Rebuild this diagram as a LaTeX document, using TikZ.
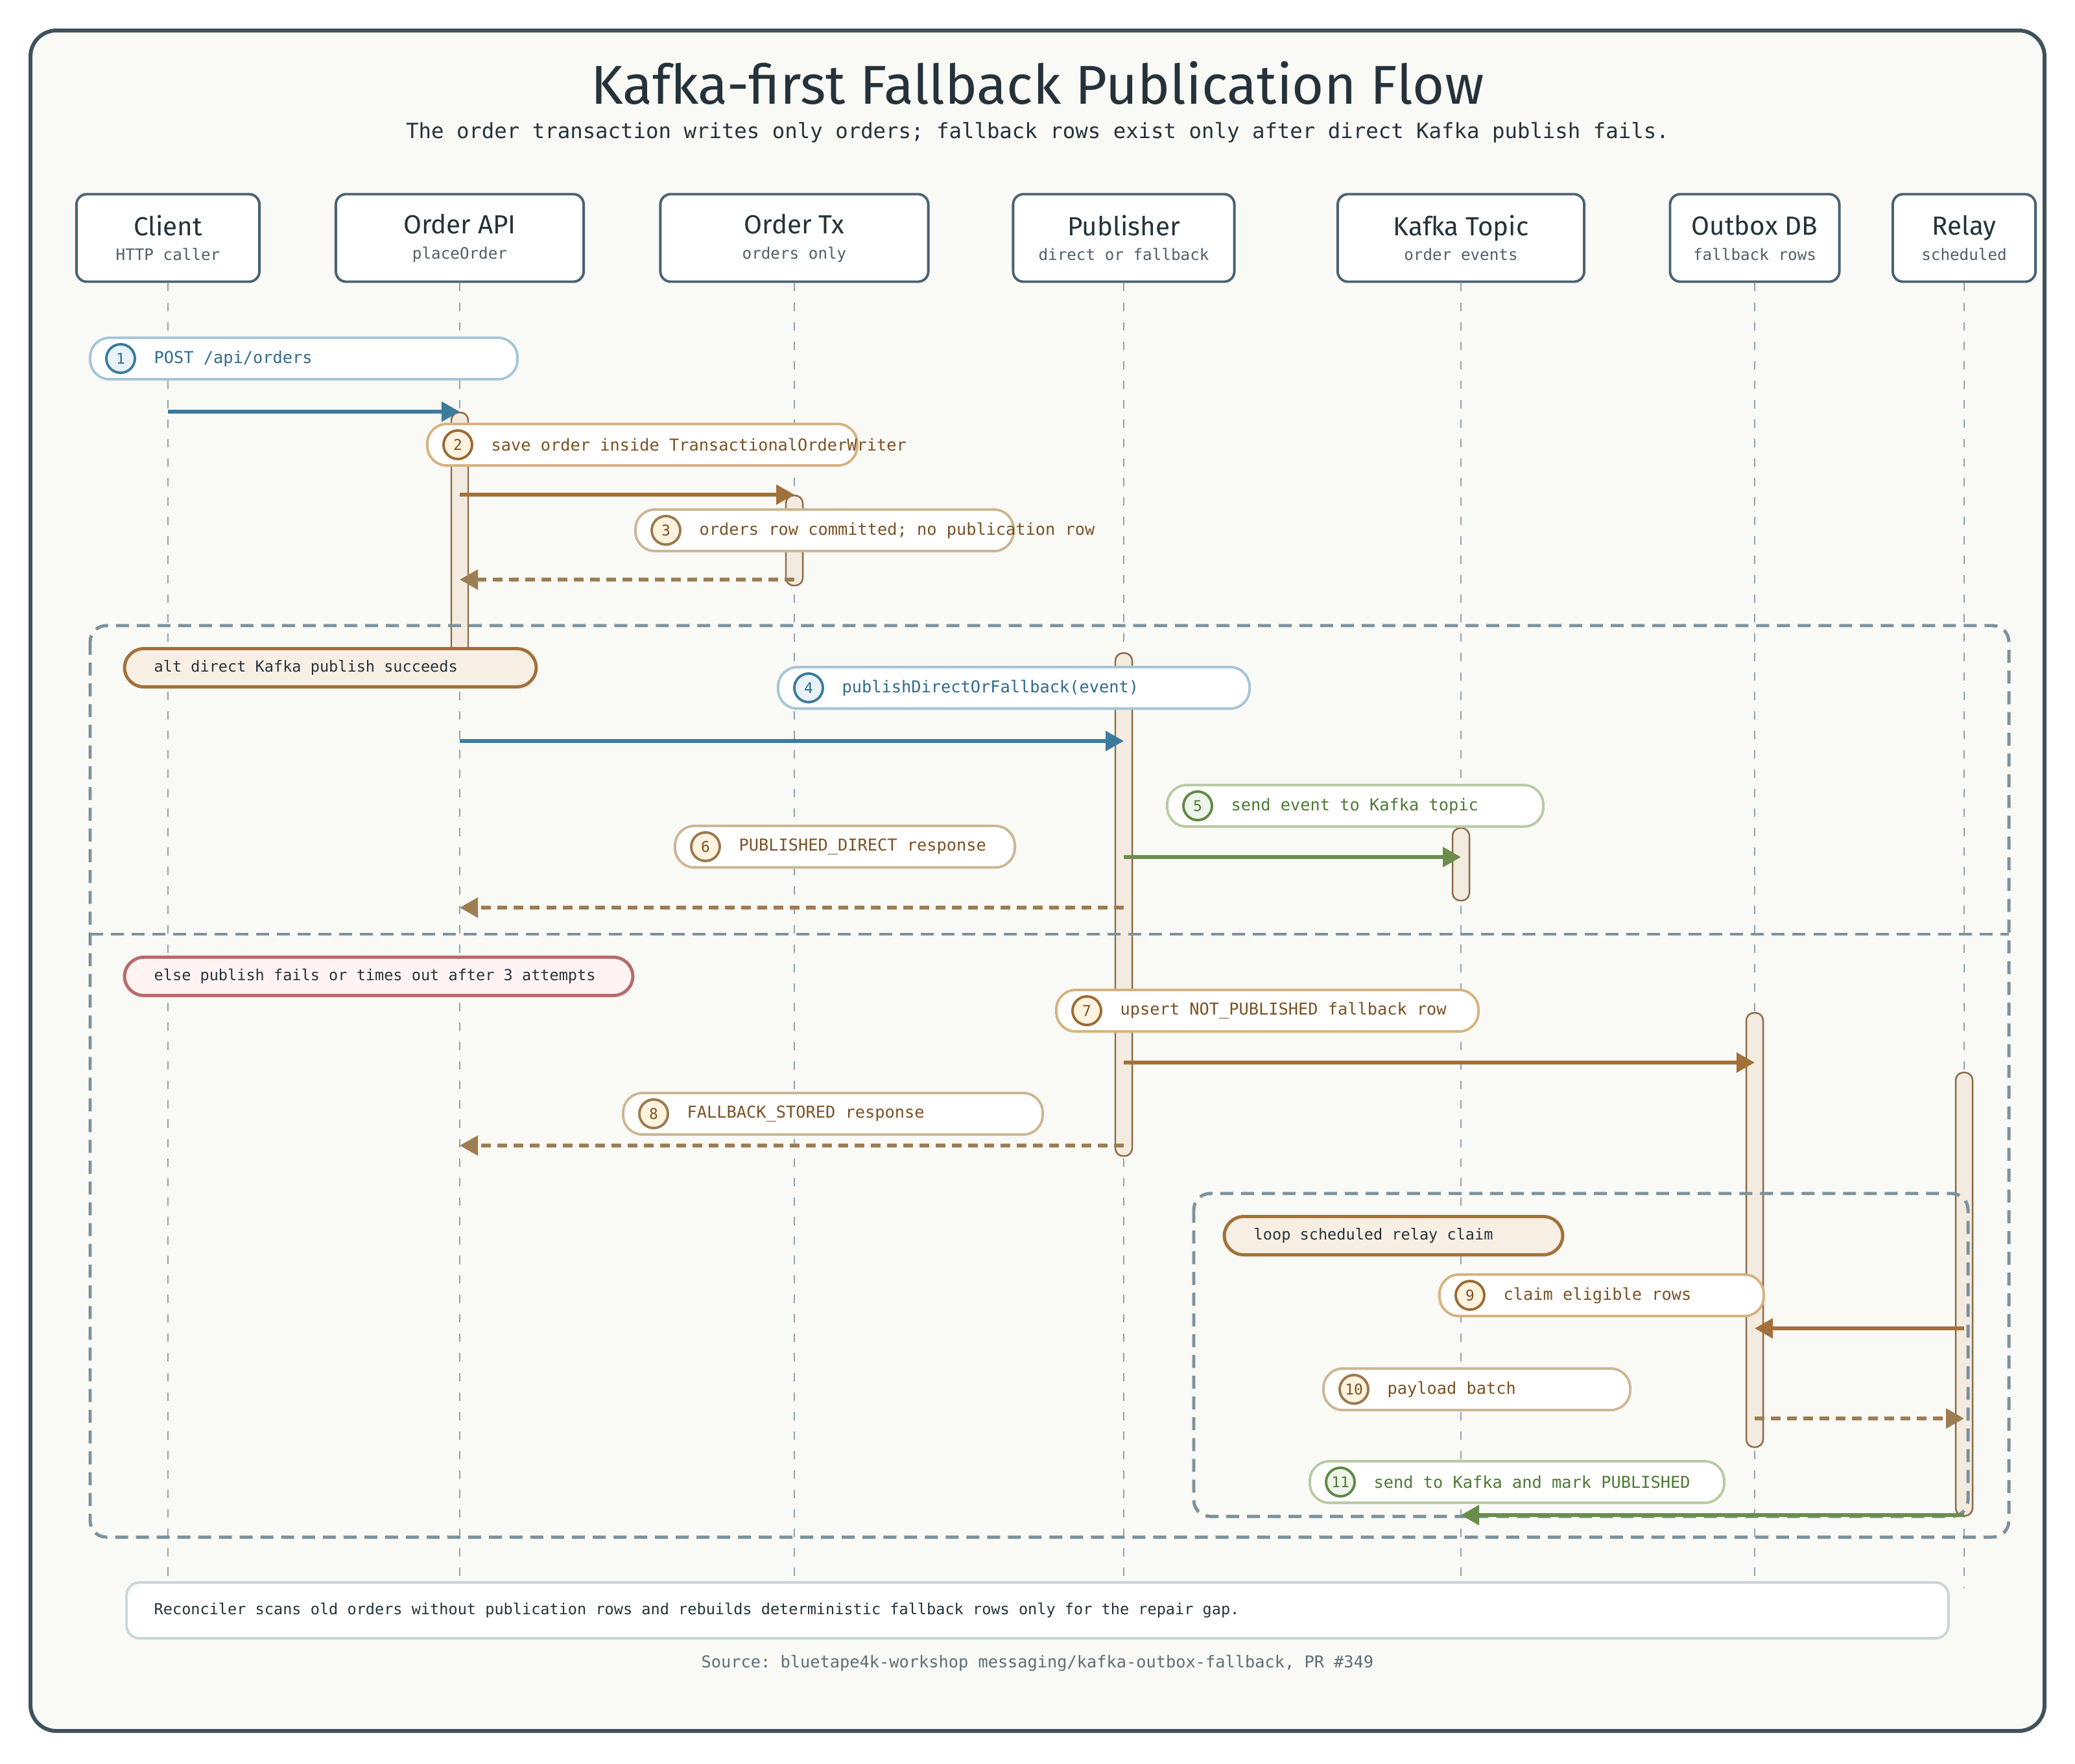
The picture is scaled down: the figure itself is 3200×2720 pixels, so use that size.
\documentclass[tikz,border=0pt]{standalone}
\usepackage{fontspec}
\setmainfont{Fira Sans}
\setmonofont{DejaVu Sans Mono}
\usetikzlibrary{calc,arrows.meta}

\definecolor{paper}{HTML}{F9F9F5}
\definecolor{framedark}{HTML}{3F525C}
\definecolor{boxline}{HTML}{4A6270}
\definecolor{ink}{HTML}{25323A}
\definecolor{subink}{HTML}{4E5F69}
\definecolor{lifecol}{HTML}{8FA3AD}
\definecolor{altline}{HTML}{7B919C}
\definecolor{barfill}{HTML}{F3EBE0}
\definecolor{barline}{HTML}{8A6A45}
\definecolor{tagfill}{HTML}{F7EFE3}
\definecolor{elsefill}{HTML}{FFF4F3}
\definecolor{elseline}{HTML}{B86A6A}
\definecolor{notecol}{HTML}{C9D5D9}
\definecolor{srccol}{HTML}{5C6E78}
\definecolor{bluearrow}{HTML}{3B7B9C}
\definecolor{bluepill}{HTML}{A4C6D8}
\definecolor{bluedot}{HTML}{3B7B9C}
\definecolor{bluedotfill}{HTML}{E9F2F8}
\definecolor{bluetext}{HTML}{2F6B8C}
\definecolor{brownarrow}{HTML}{A2713A}
\definecolor{brownpill}{HTML}{D6B37E}
\definecolor{browndot}{HTML}{9B6A33}
\definecolor{browndotfill}{HTML}{FFF3DF}
\definecolor{browntext}{HTML}{7B5123}
\definecolor{tanarrow}{HTML}{9D7D52}
\definecolor{tanpill}{HTML}{CCB794}
\definecolor{tandot}{HTML}{9B7A4E}
\definecolor{tandotfill}{HTML}{FFF3DF}
\definecolor{tantext}{HTML}{7B5123}
\definecolor{greenarrow}{HTML}{6A8E4A}
\definecolor{greenpill}{HTML}{B8CBA3}
\definecolor{greendot}{HTML}{5E8944}
\definecolor{greendotfill}{HTML}{EDF5EA}
\definecolor{greentext}{HTML}{4D7934}

\tikzset{
  actor/.style={draw=boxline, line width=1.1pt, fill=white, rounded corners=0.16cm,
    minimum height=1.35cm, align=center, inner sep=0pt, text=ink},
  lifeline/.style={draw=lifecol, line width=0.75pt, dash pattern=on 0.13cm off 0.17cm},
  actbar/.style={draw=barline, fill=barfill, line width=0.7pt, rounded corners=0.12cm,
    minimum width=0.26cm, inner sep=0pt},
  frame/.style={draw=altline, line width=1.4pt, dash pattern=on 0.2cm off 0.12cm, rounded corners=0.25cm},
  msgarrow/.style={line width=1.7pt, -{Triangle[length=0.28cm, width=0.3cm]}},
  reply/.style={msgarrow, dash pattern=on 0.15cm off 0.1cm},
  pill/.style={rounded corners=0.3cm, line width=1.1pt, fill=white, minimum height=0.64cm, inner sep=0pt},
  tag/.style={pill, line width=1.4pt, minimum height=0.59cm},
  numdot/.style={circle, line width=1.1pt, minimum size=0.44cm, inner sep=0pt,
    font=\ttfamily\fontsize{6.5}{7}\selectfont},
  msgtext/.style={anchor=west, inner sep=0pt, font=\ttfamily\fontsize{7.2}{8}\selectfont},
}

\newcommand\actname[2]{{\fontsize{11.5}{13}\selectfont #1}\\[-1pt]{\ttfamily\fontsize{6.9}{8}\selectfont\color{subink}#2}}

\newcommand\msglabel[7]{%
  \node[pill, draw=#2pill, minimum width={(#5-#4)*0.01cm}] (#1) at ({(#4+#5)/2},#6) {};
  \node[numdot, draw=#2dot, fill=#2dotfill, text=#2text] (#1n) at (#4+47,#6) {#3};
  \node[msgtext, text=#2text] (#1t) at (#4+98,#6) {#7};
}

\newcommand\frametag[7]{%
  \node[tag, fill=#2, draw=#3, minimum width={(#5-#4)*0.01cm}] (#1) at ({(#4+#5)/2},#6) {};
  \node[msgtext, text=ink, font=\ttfamily\fontsize{6.7}{8}\selectfont] (#1t) at (#4+45,#6) {#7};
}

\newcommand\actbox[4]{%
  \node[actbar, anchor=north, minimum height={(#4-#3)*0.01cm}] (#1) at (#2 |- 0,#3) {};
}

\begin{document}
\begin{tikzpicture}[x=0.01cm, y=-0.01cm]
  \useasboundingbox (0,0) rectangle (3200,2720);
  \fill[white] (0,0) rectangle (3200,2720);
  \draw[line width=1.7pt, draw=framedark, fill=paper, rounded corners=0.4cm] (47,47) rectangle (3153,2670);

  \node[font=\fontsize{24}{28}\selectfont, text=ink] (title) at (1600,128) {Kafka-first Fallback Publication Flow};
  \node[font=\ttfamily\fontsize{9.2}{11}\selectfont, text=ink] (subtitle) at (1600,204)
    {The order transaction writes only orders; fallback rows exist only after direct Kafka publish fails.};

  \node[actor, minimum width=2.82cm] (client) at (259,367) {\actname{Client}{HTTP caller}};
  \node[actor, minimum width=3.82cm] (api) at (709,367) {\actname{Order API}{placeOrder}};
  \node[actor, minimum width=4.13cm] (tx) at (1225,367) {\actname{Order Tx}{orders only}};
  \node[actor, minimum width=3.41cm] (pub) at (1733,367) {\actname{Publisher}{direct or fallback}};
  \node[actor, minimum width=3.80cm] (topic) at (2253,367) {\actname{Kafka Topic}{order events}};
  \node[actor, minimum width=2.61cm] (outbox) at (2706,367) {\actname{Outbox DB}{fallback rows}};
  \node[actor, minimum width=2.20cm] (relay) at (3029,367) {\actname{Relay}{scheduled}};

  \coordinate (lifeEnd) at (0,2450);
  \foreach \p in {client,api,tx,pub,topic,outbox,relay}
    \draw[lifeline] (\p.south) -- (\p |- lifeEnd);

  \actbox{apiBar}{api}{635}{1010}
  \actbox{txBar}{tx}{763}{902}
  \actbox{pubBar}{pub}{1006}{1782}
  \actbox{topicBar}{topic}{1276}{1388}
  \actbox{outboxBar}{outbox}{1561}{2231}
  \actbox{relayBar}{relay}{1653}{2337}

  \draw[frame] (139,965) rectangle (3098,2371);
  \draw[frame] (139,1441) -- (3098,1441);
  \draw[frame] (1841,1841) rectangle (3035,2339);

  \coordinate (m1) at (0,635);
  \coordinate (m2) at (0,763);
  \coordinate (m3) at (0,894);
  \coordinate (m4) at (0,1143);
  \coordinate (m5) at (0,1322);
  \coordinate (m6) at (0,1400);
  \coordinate (m7) at (0,1639);
  \coordinate (m8) at (0,1767);
  \coordinate (m9) at (0,2049);
  \coordinate (m10) at (0,2188);
  \coordinate (m11) at (0,2337);

  \draw[msgarrow, bluearrow] (client |- m1) -- (api |- m1);
  \draw[msgarrow, brownarrow] (api |- m2) -- (tx |- m2);
  \draw[reply, tanarrow] (tx |- m3) -- (api |- m3);
  \draw[msgarrow, bluearrow] (api |- m4) -- (pub |- m4);
  \draw[msgarrow, greenarrow] (pub |- m5) -- (topic |- m5);
  \draw[reply, tanarrow] (pub |- m6) -- (api |- m6);
  \draw[msgarrow, brownarrow] (pub |- m7) -- (outbox |- m7);
  \draw[reply, tanarrow] (pub |- m8) -- (api |- m8);
  \draw[msgarrow, brownarrow] (relay |- m9) -- (outbox |- m9);
  \draw[reply, tanarrow] (outbox |- m10) -- (relay |- m10);
  \draw[msgarrow, greenarrow] (relay |- m11) -- (topic |- m11);

  \msglabel{s1}{blue}{1}{139}{798}{553}{POST /api/orders}
  \msglabel{s2}{brown}{2}{659}{1322}{686}{save order inside TransactionalOrderWriter}
  \msglabel{s3}{tan}{3}{980}{1563}{818}{orders row committed; no publication row}
  \msglabel{s4}{blue}{4}{1200}{1927}{1061}{publishDirectOrFallback(event)}
  \msglabel{s5}{green}{5}{1800}{2380}{1243}{send event to Kafka topic}
  \msglabel{s6}{tan}{6}{1041}{1565}{1306}{PUBLISHED\_DIRECT response}
  \msglabel{s7}{brown}{7}{1629}{2280}{1559}{upsert NOT\_PUBLISHED fallback row}
  \msglabel{s8}{tan}{8}{961}{1608}{1718}{FALLBACK\_STORED response}
  \msglabel{s9}{brown}{9}{2220}{2720}{1998}{claim eligible rows}
  \msglabel{s10}{tan}{10}{2041}{2514}{2143}{payload batch}
  \msglabel{s11}{green}{11}{2020}{2659}{2286}{send to Kafka and mark PUBLISHED}

  \frametag{altTag}{tagfill}{brownarrow}{192}{827}{1030}{alt direct Kafka publish succeeds}
  \frametag{elseTag}{elsefill}{elseline}{192}{976}{1506}{else publish fails or times out after 3 attempts}
  \frametag{loopTag}{tagfill}{brownarrow}{1888}{2410}{1906}{loop scheduled relay claim}

  \node[draw=notecol, line width=1.1pt, fill=white, rounded corners=0.2cm, minimum width=28.08cm,
    minimum height=0.86cm, inner sep=0pt] (note) at (1600,2484) {};
  \node[msgtext, text=ink, font=\ttfamily\fontsize{6.7}{8}\selectfont] (noteText) at (237,2484)
    {Reconciler scans old orders without publication rows and rebuilds deterministic fallback rows only for the repair gap.};
  \node[font=\ttfamily\fontsize{7.2}{9}\selectfont, text=srccol] (source) at (1600,2565)
    {Source: bluetape4k-workshop messaging/kafka-outbox-fallback, PR \#349};
\end{tikzpicture}
\end{document}
